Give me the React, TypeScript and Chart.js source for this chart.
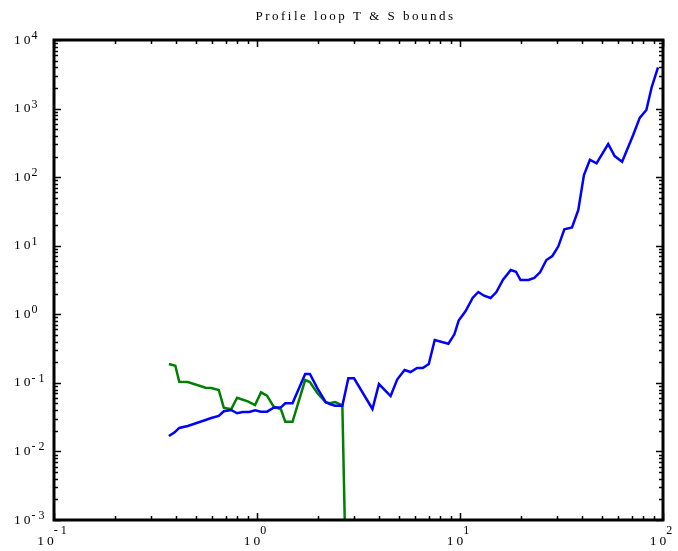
import React, { useEffect, useRef } from "react";
import { Chart, registerables } from "chart.js";

Chart.register(...registerables);

// Temperature bound per loop scale (blue)
const tempX = [
  0.368, 0.393, 0.414, 0.456, 0.558, 0.595, 0.648, 0.686, 0.746, 0.798, 0.85, 0.917,
  0.978, 1.047, 1.12, 1.207, 1.312, 1.378, 1.496, 1.727, 1.822, 1.985, 2.183, 2.284,
  2.424, 2.633, 2.818, 3.006, 3.705, 3.988, 4.551, 4.903, 5.333, 5.705, 6.147, 6.557,
  7.019, 7.508, 8.768, 9.383, 9.85, 10.66, 11.54, 12.31, 13.14, 14.15, 15.11, 16.29,
  17.79, 18.87, 19.86, 21.74, 23.21, 24.8, 26.64, 28.51, 30.51, 32.66, 35.63, 38.26,
  40.79, 43.65, 47.05, 53.7, 57.8, 62.9, 71.3, 76.8, 82.8, 88.0, 94.5,
];
const tempY = [
  0.0168, 0.019, 0.022, 0.0235, 0.0287, 0.0307, 0.0329, 0.0385, 0.0402, 0.036, 0.0376, 0.0376,
  0.0398, 0.038, 0.038, 0.0434, 0.044, 0.0503, 0.0503, 0.1346, 0.1346, 0.0832, 0.052, 0.0492,
  0.0465, 0.0465, 0.1164, 0.1164, 0.0416, 0.0962, 0.0643, 0.1119, 0.154, 0.1439, 0.1648, 0.1648,
  0.1884, 0.4217, 0.3713, 0.5105, 0.811, 1.116, 1.727, 2.113, 1.866, 1.727, 2.113, 3.19,
  4.43, 4.17, 3.16, 3.16, 3.4, 4.09, 6.19, 7.08, 9.8, 17.35, 18.44, 33.2,
  107.5, 179.6, 159.2, 304, 203, 168, 412, 733, 953, 2063, 4000,
];

// Salinity bound per loop scale (green); the last value drops out of range
const saltX = [
  0.368, 0.396, 0.414, 0.456, 0.558, 0.595, 0.648, 0.686, 0.746, 0.798, 0.9, 0.978,
  1.047, 1.12, 1.207, 1.312, 1.378, 1.496, 1.727, 1.822, 1.985, 2.183, 2.284, 2.424,
  2.633, 2.818,
];
const saltY = [
  0.188, 0.178, 0.104, 0.103, 0.085, 0.0841, 0.0787, 0.0434, 0.0411, 0.0607, 0.0538, 0.0475,
  0.0728, 0.065, 0.0452, 0.0411, 0.0271, 0.0271, 0.11, 0.103, 0.0705, 0.052, 0.0503, 0.0526,
  0.0471, 0.000003,
];

const xDecades = [-1, 0, 1, 2];
const yDecades = [-3, -2, -1, 0, 1, 2, 3, 4];
const titleText = "Profile loop T & S bounds";

const SERIF = "'Liberation Serif', 'DejaVu Serif', serif";

const framePlugin = {
  id: "frameAndLabels",
  afterDatasetsDraw(chart: any) {
    const { ctx, chartArea: a, scales } = chart;
    const xs = scales.x;
    const ys = scales.y;
    ctx.save();
    ctx.strokeStyle = "#000";
    ctx.fillStyle = "#000";

    const seg = (x1: number, y1: number, x2: number, y2: number) => {
      ctx.beginPath();
      ctx.moveTo(x1, y1);
      ctx.lineTo(x2, y2);
      ctx.stroke();
    };

    // inward tick marks on all four sides
    ctx.lineWidth = 1.5;
    const xMin = Math.pow(10, xDecades[0]);
    const xMax = Math.pow(10, xDecades[xDecades.length - 1]);
    for (const e of xDecades) {
      for (let m = 1; m <= 9; m++) {
        const v = m * Math.pow(10, e);
        if (v < xMin || v > xMax * 1.0001) continue;
        const px = Math.round(xs.getPixelForValue(v)) + 0.5;
        const len = m === 1 ? 7 : 4;
        seg(px, a.bottom, px, a.bottom - len);
        seg(px, a.top, px, a.top + len);
      }
    }
    const yMin = Math.pow(10, yDecades[0]);
    const yMax = Math.pow(10, yDecades[yDecades.length - 1]);
    for (const e of yDecades) {
      for (let m = 1; m <= 9; m++) {
        const v = m * Math.pow(10, e);
        if (v < yMin || v > yMax * 1.0001) continue;
        const py = Math.round(ys.getPixelForValue(v)) + 0.5;
        const len = m === 1 ? 7 : 4;
        seg(a.left, py, a.left + len, py);
        seg(a.right, py, a.right - len, py);
      }
    }

    // axes box
    ctx.lineWidth = 3;
    ctx.strokeRect(a.left, a.top, a.right - a.left, a.bottom - a.top);

    // decade labels: "10" with a raised exponent
    const baseFont = `13.5px ${SERIF}`;
    const expFont = `12px ${SERIF}`;
    (ctx as any).letterSpacing = "3px";

    for (const e of xDecades) {
      const px = xs.getPixelForValue(Math.pow(10, e));
      ctx.font = baseFont;
      const wb = ctx.measureText("10").width;
      ctx.font = expFont;
      const we = ctx.measureText(String(e)).width;
      const left = px - (wb + we) / 2 + 1;
      ctx.font = baseFont;
      ctx.textBaseline = "middle";
      ctx.textAlign = "left";
      ctx.fillText("10", left, a.bottom + 21);
      ctx.font = expFont;
      ctx.textBaseline = "alphabetic";
      ctx.fillText(String(e), left + wb - 3, a.bottom + 14);
    }

    for (const e of yDecades) {
      const py = ys.getPixelForValue(Math.pow(10, e));
      ctx.font = baseFont;
      const wb = ctx.measureText("10").width;
      ctx.textBaseline = "middle";
      ctx.textAlign = "left";
      ctx.fillText("10", 14, py);
      ctx.font = expFont;
      ctx.textBaseline = "alphabetic";
      ctx.fillText(String(e), 14 + wb - 2, py - 1);
    }

    // title
    (ctx as any).letterSpacing = "2.5px";
    ctx.font = `13px ${SERIF}`;
    ctx.textAlign = "center";
    ctx.textBaseline = "alphabetic";
    ctx.fillText(titleText, (a.left + a.right) / 2 - 3, 20);
    ctx.restore();
  },
};

export default function App() {
  const canvasRef = useRef<HTMLCanvasElement | null>(null);

  useEffect(() => {
    const canvas = canvasRef.current;
    if (!canvas) return;
    const chart = new Chart(canvas, {
      type: "line",
      data: {
        datasets: [
          {
            label: "T bound",
            data: tempX.map((x, i) => ({ x, y: tempY[i] })),
            borderColor: "#0000ff",
            borderWidth: 2.5,
            pointRadius: 0,
            tension: 0,
            fill: false,
          },
          {
            label: "S bound",
            data: saltX.map((x, i) => ({ x, y: saltY[i] })),
            borderColor: "#008000",
            borderWidth: 2.5,
            pointRadius: 0,
            tension: 0,
            fill: false,
          },
        ],
      },
      options: {
        responsive: false,
        animation: false,
        layout: { padding: { left: 54, right: 15, top: 40, bottom: 31 } },
        plugins: {
          legend: { display: false },
          title: { display: false },
          tooltip: { enabled: false },
        },
        scales: {
          x: {
            type: "logarithmic",
            min: Math.pow(10, xDecades[0]),
            max: Math.pow(10, xDecades[xDecades.length - 1]),
            display: false,
          },
          y: {
            type: "logarithmic",
            min: Math.pow(10, yDecades[0]),
            max: Math.pow(10, yDecades[yDecades.length - 1]),
            display: false,
          },
        },
      },
      plugins: [framePlugin],
    });
    return () => chart.destroy();
  }, []);

  return (
    <div style={{ position: "fixed", left: 0, top: 0, width: 678, height: 551, background: "#fff" }}>
      <canvas ref={canvasRef} width={678} height={551} style={{ display: "block" }} />
    </div>
  );
}
